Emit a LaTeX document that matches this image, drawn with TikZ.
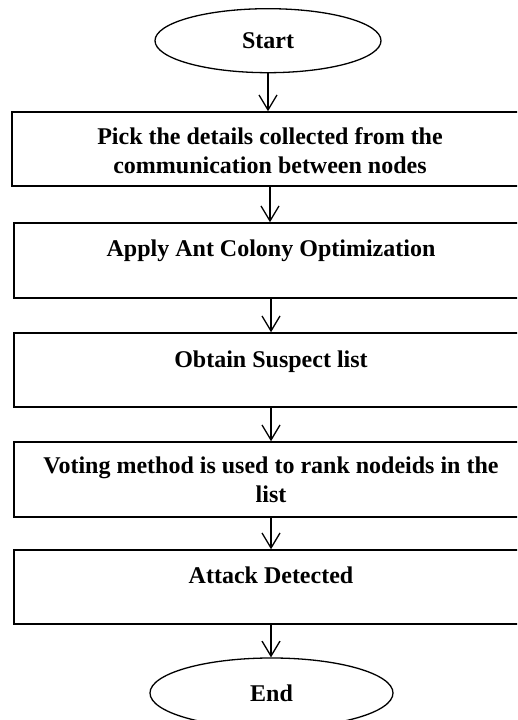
\documentclass[tikz,border=0pt]{standalone}
\usepackage{fontspec}
\setmainfont{Liberation Serif}
\usetikzlibrary{shapes.geometric,arrows.meta}
\tikzset{
  x=1pt,y=1pt,
  term/.style={draw, ellipse, line width=1.3pt, inner sep=0pt, font=\fontsize{24}{29}\selectfont\bfseries},
  stepbox/.style={draw, rectangle, line width=1.5pt, inner sep=0pt},
  txt/.style={inner sep=0pt, align=center, font=\fontsize{24}{29}\selectfont\bfseries},
  flow/.style={line width=1.3pt, -{Straight Barb[length=15pt,width=18pt,line width=1.3pt]}}
}
\begin{document}
\begin{tikzpicture}
\useasboundingbox (0,0) rectangle (517,720);
\clip (0,0) rectangle (517,720);
\node[term, minimum width=226pt, minimum height=64pt] (start) at (268,679.3) {Start};
\node[stepbox, minimum width=516pt, minimum height=74pt] (b1) at (270,571) {};
\node[stepbox, minimum width=514pt, minimum height=75pt] (b2) at (271,459.5) {};
\node[stepbox, minimum width=514pt, minimum height=74pt] (b3) at (271,350) {};
\node[stepbox, minimum width=514pt, minimum height=75pt] (b4) at (271,240.5) {};
\node[stepbox, minimum width=514pt, minimum height=74pt] (b5) at (271,133) {};
\node[term, minimum width=243pt, minimum height=70pt] (end) at (271.5,27) {End};
\node[txt, anchor=base] (t1) at (270,546) {Pick the details collected from the\\communication between nodes};
\node[txt, anchor=base] (t2) at (271,463) {Apply Ant Colony Optimization};
\node[txt, anchor=base] (t3) at (271,352) {Obtain Suspect list};
\node[txt, anchor=base] (t4) at (271,217) {Voting method is used to rank nodeids in the\\list};
\node[txt, anchor=base] (t5) at (271,136) {Attack Detected};
\draw[flow] (start.south) -- (start.south |- b1.north);
\draw[flow] (b1.south) -- (b1.south |- b2.north);
\draw[flow] (b2.south) -- (b2.south |- b3.north);
\draw[flow] (b3.south) -- (b3.south |- b4.north);
\draw[flow] (b4.south) -- (b4.south |- b5.north);
\draw[flow] (b5.south) -- (b5.south |- end.north);
\end{tikzpicture}
\end{document}
